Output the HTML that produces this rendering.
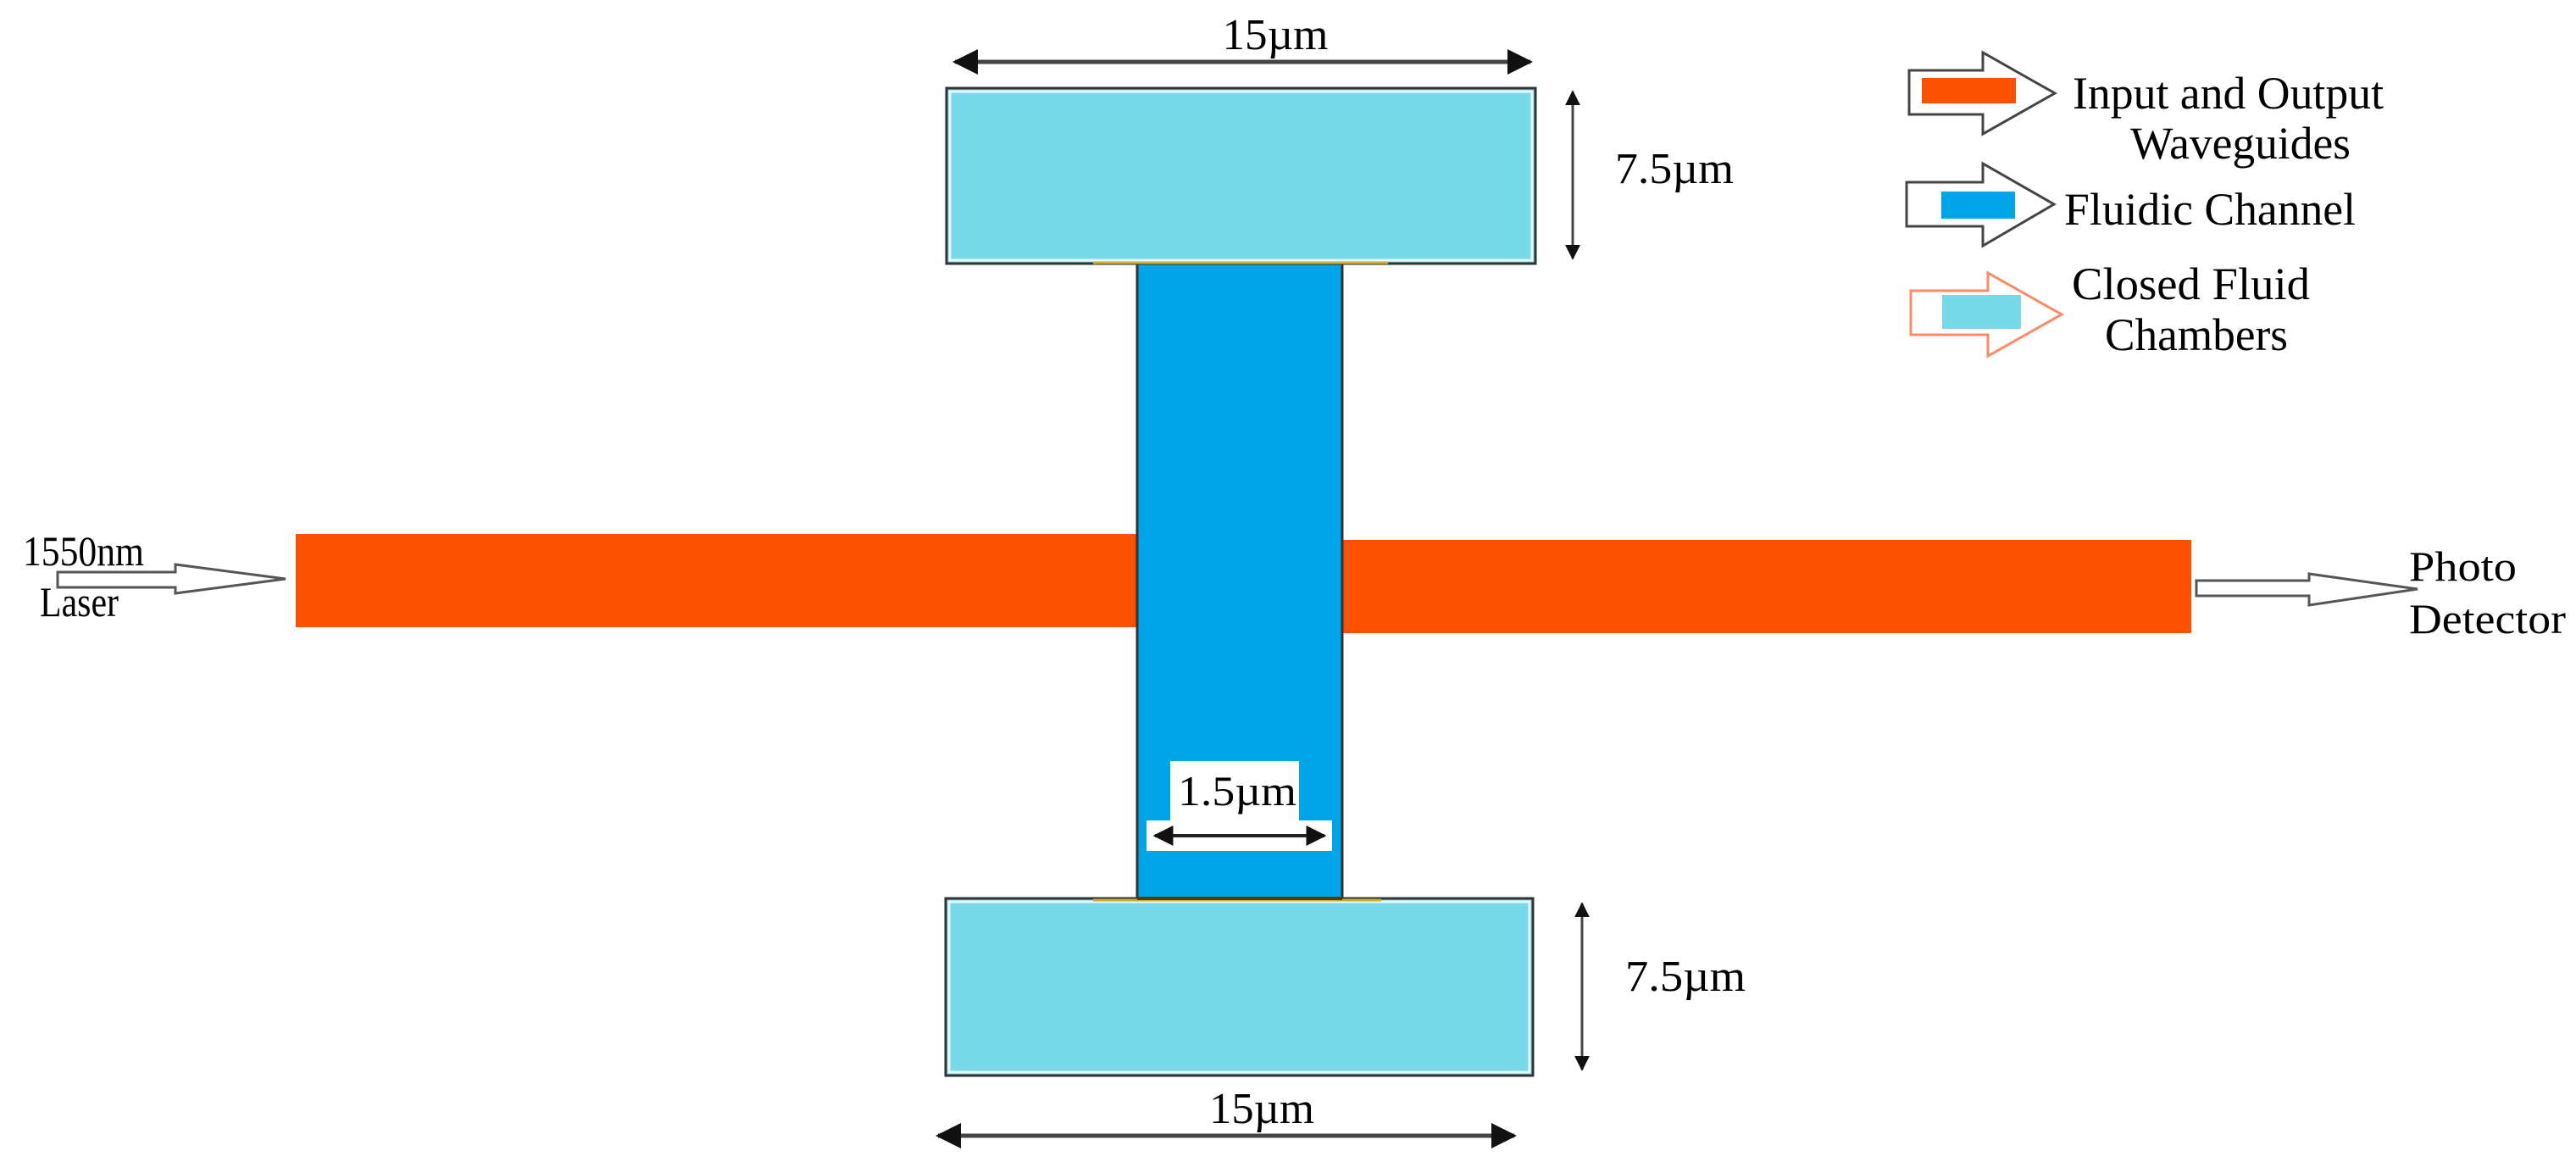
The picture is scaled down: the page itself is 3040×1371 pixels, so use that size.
<!DOCTYPE html>
<html><head><meta charset="utf-8"><style>html,body{margin:0;padding:0;background:#fff}svg{display:block}</style></head>
<body>
<svg width="3040" height="1371" viewBox="0 0 3040 1371" xmlns="http://www.w3.org/2000/svg" font-family="Liberation Serif, serif">
<defs>
<marker id="ah" viewBox="0 0 10 10" refX="9" refY="5" markerWidth="6" markerHeight="6" orient="auto-start-reverse" markerUnits="strokeWidth"><path d="M0,0 L10,5 L0,10 z" fill="#111"/></marker>
</defs>
<!-- top chamber -->
<rect x="1117" y="104" width="695" height="207" fill="#77d9ea" stroke="#333" stroke-width="3"/>
<rect x="1121" y="108" width="687" height="199" fill="none" stroke="#e8f8fb" stroke-width="3"/>
<!-- bottom chamber -->
<rect x="1116" y="1060" width="693" height="209" fill="#77d9ea" stroke="#333" stroke-width="3"/>
<rect x="1120" y="1064" width="685" height="201" fill="none" stroke="#e8f8fb" stroke-width="3"/>
<!-- waveguides -->
<rect x="349" y="630" width="993" height="110" fill="#fb5000"/>
<rect x="1584" y="637" width="1002" height="110" fill="#fb5000"/>
<!-- channel -->
<rect x="1342" y="311" width="242" height="749" fill="#00a5e8" stroke="#333" stroke-width="3"/>
<line x1="1290" y1="310" x2="1638" y2="310" stroke="#c9b030" stroke-width="3"/>
<line x1="1290" y1="1062" x2="1630" y2="1062" stroke="#c9b030" stroke-width="3"/>
<line x1="1342" y1="1060" x2="1584" y2="1060" stroke="#5a3a00" stroke-width="4"/>
<!-- 1.5um label box -->
<rect x="1381" y="898" width="152" height="72" fill="#fff"/>
<rect x="1353" y="968" width="219" height="36" fill="#fff"/>
<line x1="1363" y1="986" x2="1563" y2="986" stroke="#222" stroke-width="4" marker-start="url(#ah)" marker-end="url(#ah)"/>
<text x="1460" y="950" font-size="50" text-anchor="middle" textLength="140" lengthAdjust="spacingAndGlyphs">1.5µm</text>
<!-- top dims -->
<line x1="1127" y1="73" x2="1806" y2="73" stroke="#444" stroke-width="5" marker-start="url(#ah)" marker-end="url(#ah)"/>
<text x="1505" y="58" font-size="52" text-anchor="middle" textLength="125" lengthAdjust="spacingAndGlyphs">15µm</text>
<line x1="1856" y1="108" x2="1856" y2="305" stroke="#444" stroke-width="3" marker-start="url(#ah)" marker-end="url(#ah)"/>
<text x="1906" y="216" font-size="52" textLength="140" lengthAdjust="spacingAndGlyphs">7.5µm</text>
<!-- bottom dims -->
<line x1="1867" y1="1066" x2="1867" y2="1262" stroke="#444" stroke-width="3" marker-start="url(#ah)" marker-end="url(#ah)"/>
<text x="1918" y="1169" font-size="52" textLength="142" lengthAdjust="spacingAndGlyphs">7.5µm</text>
<line x1="1107" y1="1340" x2="1787" y2="1340" stroke="#444" stroke-width="5" marker-start="url(#ah)" marker-end="url(#ah)"/>
<text x="1489" y="1325" font-size="52" text-anchor="middle" textLength="124" lengthAdjust="spacingAndGlyphs">15µm</text>
<!-- laser arrow -->
<path d="M68,675 L207,675 L207,666 L337,683 L207,700 L207,693 L68,693 Z" fill="#fff" stroke="#555" stroke-width="3"/>
<text x="27" y="667" font-size="50" textLength="143" lengthAdjust="spacingAndGlyphs">1550nm</text>
<text x="47" y="727" font-size="50" textLength="93" lengthAdjust="spacingAndGlyphs">Laser</text>
<!-- photo detector arrow -->
<path d="M2592,685 L2725,685 L2725,677 L2853,695 L2725,714 L2725,703 L2592,703 Z" fill="#fff" stroke="#555" stroke-width="3"/>
<text x="2843" y="685" font-size="50" textLength="127" lengthAdjust="spacingAndGlyphs">Photo</text>
<text x="2843" y="747" font-size="50" textLength="185" lengthAdjust="spacingAndGlyphs">Detector</text>
<!-- legend -->
<path d="M2253,83 L2340,83 L2340,62 L2425,110 L2340,158 L2340,135 L2253,135 Z" fill="#fff" stroke="#444" stroke-width="3"/>
<rect x="2268" y="92" width="111" height="30" fill="#fb5000"/>
<text x="2446" y="128" font-size="54" textLength="367" lengthAdjust="spacingAndGlyphs">Input and Output</text>
<text x="2514" y="187" font-size="54" textLength="260" lengthAdjust="spacingAndGlyphs">Waveguides</text>
<path d="M2250,215 L2340,215 L2340,193 L2424,241 L2340,290 L2340,267 L2250,267 Z" fill="#fff" stroke="#444" stroke-width="3"/>
<rect x="2291" y="226" width="87" height="32" fill="#00a5e8"/>
<text x="2436" y="265" font-size="54" textLength="344" lengthAdjust="spacingAndGlyphs">Fluidic Channel</text>
<path d="M2255,343 L2346,343 L2346,322 L2433,371 L2346,420 L2346,395 L2255,395 Z" fill="#fff" stroke="#f98a6a" stroke-width="3"/>
<rect x="2292" y="348" width="93" height="40" fill="#77d9ea"/>
<text x="2445" y="353" font-size="54" textLength="281" lengthAdjust="spacingAndGlyphs">Closed Fluid</text>
<text x="2484" y="413" font-size="54" textLength="216" lengthAdjust="spacingAndGlyphs">Chambers</text>
</svg>
</body></html>
